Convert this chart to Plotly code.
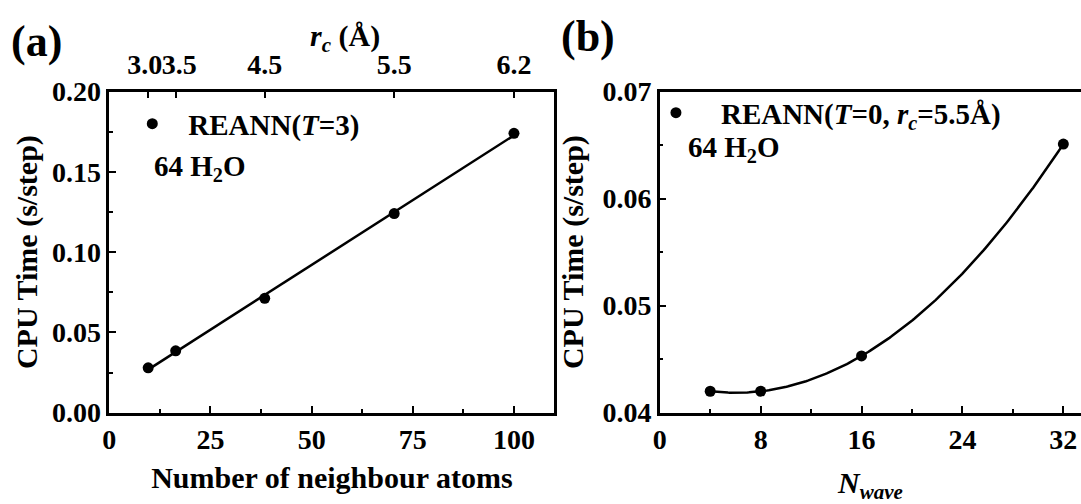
import numpy as np
import plotly.graph_objects as go

# Panel (a): CPU time vs number of neighbour atoms (T=3)
neighbours = [9.6, 16.4, 38.4, 70.4, 100.0]
cpu_a = [0.0279, 0.0385, 0.0712, 0.1240, 0.1740]
rc_labels = ["3.0\u00a0", "\u00a03.5", "4.5", "5.5", "6.2"]

# Panel (b): CPU time vs N_wave (T=0, rc=5.5 Å)
nwave = [4, 8, 16, 32]
cpu_b = [0.0420, 0.0420, 0.0453, 0.0651]

FONT = "Liberation Serif"
W, H = 1081, 504

def px_x(p):
    return p / W

def px_y(p):
    return 1 - p / H

top, bottom = 83, 431
ydom = [px_y(bottom), px_y(top)]

# linear fit for panel (a)
ca = np.polyfit(neighbours, cpu_a, 1)
xa = np.linspace(min(neighbours), max(neighbours), 50)
ya = np.polyval(ca, xa)

# smooth fit for panel (b)
cb = np.polyfit(nwave, cpu_b, 3)
xb = np.linspace(min(nwave), max(nwave), 200)
yb = np.polyval(cb, xb)

fig = go.Figure()
line_style = dict(color="black", width=2.5)
marker_style = dict(color="black", size=11)

fig.add_trace(go.Scatter(x=xa, y=ya, mode="lines", line=line_style,
                         showlegend=False, xaxis="x", yaxis="y", hoverinfo="skip"))
fig.add_trace(go.Scatter(x=neighbours, y=cpu_a, mode="markers", marker=marker_style,
                         name="REANN(<i>T</i>=3)", legend="legend", xaxis="x", yaxis="y"))
# invisible trace to attach the top r_c axis
fig.add_trace(go.Scatter(x=neighbours, y=cpu_a, mode="markers", marker=dict(opacity=0),
                         showlegend=False, xaxis="x3", yaxis="y", hoverinfo="skip"))

fig.add_trace(go.Scatter(x=xb, y=yb, mode="lines", line=line_style,
                         showlegend=False, xaxis="x2", yaxis="y2", hoverinfo="skip"))
fig.add_trace(go.Scatter(x=nwave, y=cpu_b, mode="markers", marker=marker_style,
                         name="REANN(<i>T</i>=0, <i>r</i><sub><i>c</i></sub>=5.5Å)",
                         legend="legend2", xaxis="x2", yaxis="y2"))

tick_font = dict(family=FONT, size=28, color="black", weight="bold")
title_font = dict(family=FONT, size=30, color="black", weight="bold")

axis_common = dict(showline=True, linecolor="black", linewidth=2.5,
                   ticks="inside", ticklen=7, tickwidth=2, tickcolor="black",
                   showgrid=False, zeroline=False, tickfont=tick_font, tickangle=0)

minor_style = dict(ticks="inside", ticklen=4, tickwidth=2, tickcolor="black")

fig.update_layout(
    width=W, height=H,
    margin=dict(l=0, r=0, t=0, b=0),
    paper_bgcolor="white", plot_bgcolor="white",
    xaxis=dict(**axis_common, domain=[px_x(103), px_x(551)], range=[0, 110],
               tickvals=[0, 25, 50, 75, 100], anchor="y",
               minor=dict(**minor_style, tick0=0, dtick=12.5),
               title=dict(text="Number of neighbour atoms", font=title_font, standoff=14)),
    xaxis3=dict(**axis_common, overlaying="x", side="top", anchor="y",
                range=[0, 110], tickvals=neighbours, ticktext=rc_labels,
                ticklabelstandoff=4),
    yaxis=dict(**axis_common, domain=ydom, range=[0, 0.2], anchor="x", mirror=True,
               tickvals=[0, 0.05, 0.10, 0.15, 0.20], tickformat=".2f",
               minor=dict(**minor_style, tick0=0, dtick=0.025),
               title=dict(text="CPU Time (s/step)", font=title_font, standoff=6)),
    xaxis2=dict(**axis_common, domain=[px_x(657), 1.0], range=[0, 33.4],
                tickvals=[0, 8, 16, 24, 32], anchor="y2", mirror=True,
                minor=dict(**minor_style, tick0=0, dtick=4),
                title=dict(text="<i>N</i><sub><i>wave</i></sub>", font=title_font, standoff=28)),
    yaxis2=dict(**axis_common, domain=ydom, range=[0.04, 0.07], anchor="x2",
                tickvals=[0.04, 0.05, 0.06, 0.07], tickformat=".2f",
                minor=dict(**minor_style, tick0=0.04, dtick=0.005),
                title=dict(text="CPU Time (s/step)", font=title_font, standoff=10)),
    legend=dict(x=px_x(110), y=px_y(118), xanchor="left", yanchor="middle", itemwidth=62,
                bgcolor="rgba(0,0,0,0)", font=dict(family=FONT, size=29, color="black", weight="bold")),
    legend2=dict(x=px_x(628), y=px_y(106), xanchor="left", yanchor="middle", itemwidth=80,
                 bgcolor="rgba(0,0,0,0)", font=dict(family=FONT, size=29, color="black", weight="bold")),
    showlegend=True,
)

ann_font = dict(family=FONT, size=29, color="black", weight="bold")
fig.add_annotation(text="64 H<sub>2</sub>O", x=px_x(146), y=px_y(166), xref="paper", yref="paper",
                   xanchor="left", yanchor="middle", showarrow=False, font=ann_font)
fig.add_annotation(text="64 H<sub>2</sub>O", x=px_x(683), y=px_y(145), xref="paper", yref="paper",
                   xanchor="left", yanchor="middle", showarrow=False, font=ann_font)
fig.add_annotation(text="<i>r</i><sub><i>c</i></sub> (Å)", x=px_x(340), y=px_y(25),
                   xref="paper", yref="paper", xanchor="center", yanchor="middle",
                   showarrow=False, font=title_font)
label_font = dict(family=FONT, size=44, color="black", weight="bold")
fig.add_annotation(text="(a)", x=px_x(2), y=px_y(29), xref="paper", yref="paper",
                   xanchor="left", yanchor="middle", showarrow=False, font=label_font)
fig.add_annotation(text="(b)", x=px_x(556), y=px_y(23), xref="paper", yref="paper",
                   xanchor="left", yanchor="middle", showarrow=False, font=label_font)

fig.write_html("out.html")
